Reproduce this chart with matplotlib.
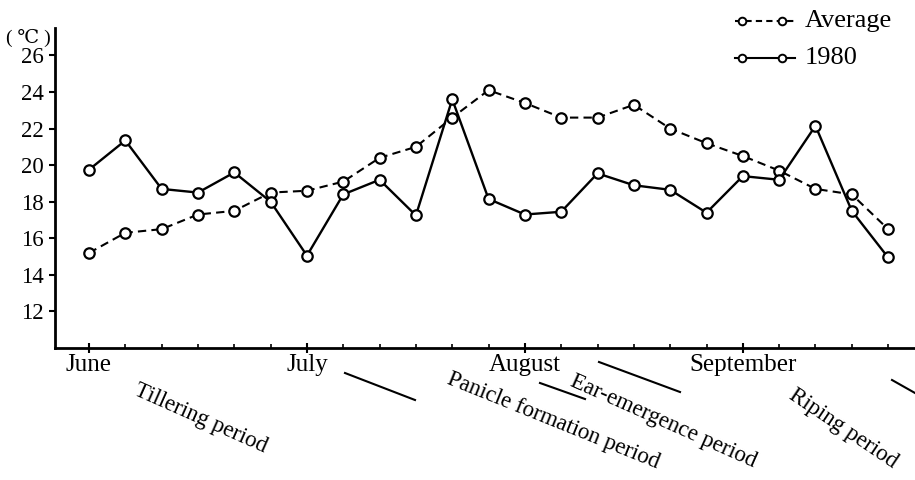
import matplotlib
matplotlib.use("Agg")
import matplotlib.pyplot as plt
from matplotlib.lines import Line2D

# ---- data ----
periods = list(range(23))  # 5-day periods from early June to late September
avg_temp = [15.2, 16.3, 16.5, 17.3, 17.5, 18.5, 18.6, 19.1, 20.4, 21.0, 22.6,
            24.1, 23.4, 22.6, 22.6, 23.3, 22.0, 21.2, 20.5, 19.7, 18.7, 18.4, 16.5]
temp_1980 = [19.75, 21.35, 18.7, 18.5, 19.6, 18.0, 15.05, 18.4, 19.2, 17.25, 23.6,
             18.15, 17.3, 17.45, 19.55, 18.9, 18.65, 17.4, 19.4, 19.2, 22.15, 17.5, 14.95]
month_pos = [0, 6, 12, 18]
month_labels = ["June", "July", "August", "September"]
y_ticks = [12, 14, 16, 18, 20, 22, 24, 26]
stage_labels = ["Tillering period", "Panicle formation period",
                "Ear-emergence period", "Riping period"]

SERIF = ["Liberation Serif", "DejaVu Serif", "DejaVu Sans"]
plt.rcParams["font.family"] = SERIF

W, H = 915, 480
fig = plt.figure(figsize=(W / 100, H / 100), dpi=100)

def px(x, y):
    return (x / W, 1 - y / H)

ax = fig.add_axes([55 / W, 1 - 348 / H, (W - 55) / W, (348 - 28) / H])

ax.plot(periods, avg_temp, color="black", lw=1.5, ls=(0, (4, 2.5)),
        marker="o", ms=7.5, mfc="white", mec="black", mew=1.6, zorder=3)
ax.plot(periods, temp_1980, color="black", lw=1.7, ls="-",
        marker="o", ms=7.5, mfc="white", mec="black", mew=1.6, zorder=3)

ax.set_xlim(-0.936, 22.74)
ax.set_ylim(10, 27.5)

for s in ["top", "right"]:
    ax.spines[s].set_visible(False)
ax.spines["left"].set_linewidth(2)
ax.spines["bottom"].set_linewidth(2)

ax.set_yticks(y_ticks)
ax.set_yticklabels([str(v) for v in y_ticks], fontsize=16.5)
ax.tick_params(axis="y", direction="out", length=4, width=1.5, pad=4)

ax.set_xticks(month_pos)
ax.set_xticklabels(month_labels, fontsize=18)
ax.set_xticks(periods, minor=True)
ax.tick_params(axis="x", which="major", direction="inout", length=7, width=1.5, pad=1)
ax.tick_params(axis="x", which="minor", direction="in", length=3, width=1.2)

# unit label
fig.text(*px(6, 38), "( ℃ )", fontsize=14, va="center", ha="left")

# legend drawn by hand
def legend_entry(y, ls, label):
    x0, x1 = 735, 795
    fig.add_artist(Line2D([x0 / W, x1 / W], [1 - y / H, 1 - y / H], color="black",
                          lw=1.5, ls=ls))
    fig.add_artist(Line2D([742 / W, 782 / W], [1 - y / H, 1 - y / H], ls="none",
                          marker="o", ms=5.5, mfc="white", mec="black", mew=1.4))
    fig.text(805 / W, 1 - y / H, label, fontsize=19, va="center", ha="left")

legend_entry(21, (0, (3, 2)), "Average")
legend_entry(58, "-", "1980")

# growth stage labels (rotated)
stage_pos = [(140, 380, -24), (452, 369, -22), (576, 371, -24), (797, 385, -34)]
for (x, y, rot), lab in zip(stage_pos, stage_labels):
    fig.text(*px(x, y), lab, fontsize=16.5, rotation=rot, rotation_mode="anchor",
             ha="left", va="top")

# connector strokes between stages
segments = [((345, 373), (415, 400)), ((540, 383), (585, 399)),
            ((599, 362), (680, 392)), ((892, 380), (915, 393))]
for (a, b) in segments:
    fig.add_artist(Line2D([a[0] / W, b[0] / W], [1 - a[1] / H, 1 - b[1] / H],
                          color="black", lw=1.5))

fig.savefig("out.png", dpi=100)
